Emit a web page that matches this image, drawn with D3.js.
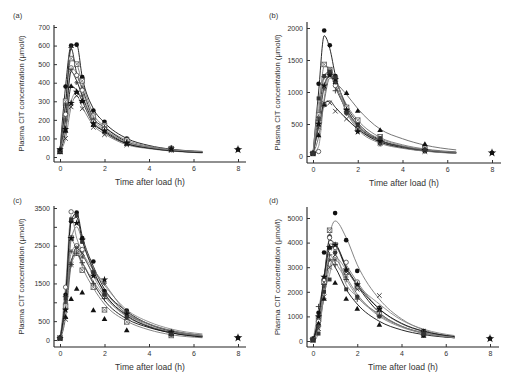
<!DOCTYPE html>
<html><head><meta charset="utf-8">
<script src="https://cdn.jsdelivr.net/npm/d3@7"></script>
<style>body{margin:0;background:#fff}svg{display:block}text{font-family:"Liberation Sans",Arial,sans-serif;fill:#333}</style>
</head><body><svg id="c" width="512" height="375"></svg>
<script>
// ---------- data ----------
const sampleTimes = [0, 0.25, 0.5, 0.75, 1, 1.5, 2, 3, 5];
const fitTimes = [0, 0.25, 0.5, 0.75, 1, 1.5, 2, 3, 4, 5, 6.4];
const markers = ["filledCircle","boxCross","plus","openCircle","filledTriangle","cross","asterisk","filledDiamond","filledSquare"];

const aPoints = [
  [35, 380, 600, 605, 430, 250, 190, 100, 50],
  [30, 300, 530, 500, 410, 220, 170, 90, 45],
  [30, 280, 590, 440, 370, 200, 160, 80, 40],
  [30, 230, 480, 440, 360, 190, 150, 75, 40],
  [25, 140, 380, 350, 300, 170, 140, 70, 38],
  [30, 100, 270, 330, 260, 160, 120, 65, 35],
  [30, 200, 470, 400, 330, 180, 130, 70, 40],
  [40, 150, 290, 350, 300, 180, 140, 75, 45]
];
const aFits = [
  [35, 380, 600, 605, 430, 260, 185, 100, 62, 42, 30],
  [30, 300, 530, 500, 400, 230, 165, 90, 58, 40, 28],
  [30, 280, 585, 450, 370, 210, 160, 82, 52, 36, 25],
  [30, 230, 480, 450, 360, 200, 150, 78, 50, 36, 25],
  [25, 140, 380, 360, 300, 180, 140, 72, 48, 34, 24],
  [30, 100, 270, 330, 270, 170, 125, 66, 45, 32, 22],
  [30, 200, 460, 410, 330, 190, 135, 72, 48, 34, 24],
  [40, 150, 300, 350, 305, 185, 145, 78, 52, 38, 28]
];
const bPoints = [
  [40, 1130, 1960, 1730, 1250, 750, 520, 260, 80],
  [40, 640, 1430, 1350, 1200, 760, 560, 300, 120],
  [40, 560, 1240, 1300, 1020, 700, 450, 230, 90],
  [40, 70, 800, 1330, 1100, 680, 420, 200, 80],
  [40, 320, 800, 1300, 1150, 980, 700, 400, 180],
  [40, 450, 820, 830, 700, 580, 420, 200, 70],
  [40, 600, 1050, 1300, 1150, 660, 400, 180, 80],
  [40, 500, 1100, 1260, 1200, 720, 380, 230, 90],
  [40, 900, 1250, 1320, 1230, 680, 480, 280, 100]
];
const bFits = [
  [40, 1000, 1880, 1680, 1260, 780, 520, 250, 150, 90, 55],
  [40, 700, 1400, 1380, 1180, 800, 560, 290, 175, 110, 65],
  [40, 560, 1250, 1320, 1080, 720, 480, 240, 145, 95, 55],
  [40, 150, 900, 1300, 1120, 700, 450, 215, 130, 80, 45],
  [40, 300, 850, 1220, 1150, 960, 740, 420, 270, 170, 95],
  [40, 450, 820, 860, 760, 580, 420, 220, 130, 80, 45],
  [40, 600, 1100, 1280, 1120, 680, 420, 200, 120, 75, 40],
  [40, 480, 1080, 1260, 1180, 740, 470, 240, 150, 95, 55],
  [40, 850, 1250, 1330, 1220, 700, 480, 270, 160, 100, 60]
];
const cPoints = [
  [50, 1200, 3150, 3380, 2700, 2080, 1300, 780, 220],
  [50, 900, 2700, 2300, 1850, 1400, 800, 480, 120],
  [50, 1150, 2000, 2300, 2050, 1500, 1100, 600, 150],
  [50, 1400, 3400, 2500, 2400, 1800, 1200, 700, 200],
  [50, 600, 1080, 1350, 1250, 780, 550, 250, 150],
  [50, 550, 2000, 2450, 2300, 1750, 1250, 650, 180],
  [50, 1000, 2350, 2450, 2200, 1780, 1500, 750, 200],
  [50, 800, 2700, 3100, 2650, 1700, 1600, 700, 200],
  [50, 1100, 3200, 3300, 2600, 1800, 1200, 600, 150]
];
const cFits = [
  [0, 1200, 3150, 3370, 2750, 1950, 1350, 760, 420, 230, 100],
  [0, 900, 2650, 2400, 1950, 1380, 950, 500, 270, 140, 60],
  [0, 900, 2100, 2300, 2050, 1500, 1050, 560, 330, 190, 90],
  [0, 1400, 3300, 2700, 2350, 1700, 1200, 680, 380, 210, 90],
  [0, 1000, 2000, 2250, 2050, 1550, 1150, 620, 360, 210, 100],
  [0, 600, 2000, 2450, 2250, 1750, 1300, 700, 420, 250, 130],
  [0, 1000, 2300, 2500, 2300, 1850, 1450, 800, 480, 290, 160],
  [0, 850, 2650, 3000, 2650, 1900, 1500, 740, 430, 250, 120],
  [0, 1100, 3150, 3250, 2650, 1850, 1250, 650, 350, 190, 80]
];
const dPoints = [
  [100, 1150, 3600, 4250, 5200, 4100, 2850, 1350, 400],
  [50, 900, 2400, 4500, 3900, 2800, 2200, 1100, 300],
  [50, 1400, 2300, 3500, 3100, 2500, 1700, 1200, 250],
  [50, 800, 2500, 4200, 3800, 3200, 2400, 1300, 350],
  [50, 700, 1700, 3800, 2350, 1700, 1300, 650, 200],
  [50, 500, 1800, 3000, 3500, 2800, 2100, 1850, 400],
  [50, 600, 2200, 3300, 3300, 2600, 1800, 1000, 300],
  [50, 1000, 2600, 3800, 3900, 2900, 2300, 1300, 350],
  [50, 300, 2000, 2500, 3600, 2100, 1800, 1000, 300]
];
const dFits = [
  [0, 700, 2600, 4300, 4880, 4200, 3100, 1700, 900, 450, 180],
  [0, 900, 2500, 4100, 3950, 2950, 2250, 1150, 600, 320, 130],
  [0, 1300, 2400, 3500, 3200, 2500, 1800, 1100, 600, 320, 140],
  [0, 800, 2500, 3950, 3850, 3100, 2400, 1300, 700, 380, 160],
  [0, 700, 1800, 3300, 3000, 2100, 1500, 800, 450, 260, 130],
  [0, 500, 1800, 3000, 3400, 2900, 2300, 1500, 850, 480, 220],
  [0, 600, 2200, 3300, 3300, 2600, 1900, 1050, 600, 330, 150],
  [0, 1000, 2600, 3750, 3900, 3000, 2300, 1300, 720, 400, 180],
  [0, 300, 1900, 2700, 3500, 2300, 1800, 1000, 560, 310, 140]
];
const lateTime = 8;
const lateValues = [40, 50, 60, 100];
const aTicks = [0,100,200,300,400,500,600,700];
const bTicks = [0,500,1000,1500,2000];
const cTicks = [0,500,1000,1500,2000,2500,3000,3500];
const cTickLabels = ["0","500","","1500","","2500","","3500"];
const dTicks = [0,1000,2000,3000,4000,5000];
const xTicks = [0,2,4,6,8];
const panelLabels = ["(a)","(b)","(c)","(d)"];
const xTitle = "Time after load (h)";
const yTitle = "Plasma CIT concentration (\u03bcmol/l)";

// ---------- layout (not data) ----------
const layout = [
  {ox:0,   x0:60,  x8:238, y0:157, yTop:27,  ymax:700,  axX:54,  axY:162, top:25,  right:246, tick:aTicks, lab:aTicks.map(String), pts:aPoints, fits:aFits},
  {ox:256, x0:313, x8:492, y0:156, yTop:28,  ymax:2000, axX:307, axY:163, top:22,  right:501, tick:bTicks, lab:bTicks.map(String), pts:bPoints, fits:bFits},
  {ox:0,   x0:60,  x8:238, y0:340, yTop:208, ymax:3500, axX:54,  axY:347, top:206, right:246, tick:cTicks, lab:cTickLabels, pts:cPoints, fits:cFits},
  {ox:256, x0:313, x8:490, y0:341, yTop:218, ymax:5000, axX:307, axY:347, top:207, right:499, tick:dTicks, lab:dTicks.map(String), pts:dPoints, fits:dFits}
];
const lineColors = [["#111","#777","#111","#888","#111","#777","#111","#888"],
                    ["#111","#777","#333","#888","#666","#111","#777","#444","#888"],
                    ["#111","#777","#111","#888","#777","#555","#888","#777","#111"],
                    ["#777","#111","#888","#777","#111","#888","#777","#111","#888"]];

const svg = d3.select("#c");

function drawMarker(g, type, cx, cy, r) {
  const s = g.append("g").attr("transform", `translate(${cx},${cy})`);
  const dk = "#111";
  switch (type) {
    case "filledCircle": s.append("circle").attr("r", r).attr("fill", dk); break;
    case "openCircle": s.append("circle").attr("r", r*0.95).attr("fill", "#fff").attr("stroke", "#444").attr("stroke-width", 0.8); break;
    case "filledTriangle": s.append("path").attr("d", d3.symbol(d3.symbolTriangle, r*r*2.6)()).attr("fill", dk); break;
    case "filledSquare": s.append("rect").attr("x",-r*0.85).attr("y",-r*0.85).attr("width",r*1.7).attr("height",r*1.7).attr("fill", "#333"); break;
    case "filledDiamond": s.append("path").attr("d", d3.symbol(d3.symbolStar, r*r*3.2)()).attr("fill", dk); break;
    case "lateBlob": s.append("circle").attr("r", r*0.8).attr("fill", dk); s.append("path").attr("d", d3.symbol(d3.symbolStar, r*r*3)()).attr("fill", dk); break;
    case "cross": s.append("path").attr("d", `M${-r},${-r}L${r},${r}M${-r},${r}L${r},${-r}`).attr("stroke", "#333").attr("stroke-width", 0.9); break;
    case "plus": s.append("path").attr("d", `M${-r*1.2},0L${r*1.2},0M0,${-r*1.2}L0,${r*1.2}`).attr("stroke", "#333").attr("stroke-width", 0.9); break;
    case "asterisk": s.append("path").attr("d", `M${-r},0L${r},0M0,${-r}L0,${r}M${-r*.7},${-r*.7}L${r*.7},${r*.7}M${-r*.7},${r*.7}L${r*.7},${-r*.7}`).attr("stroke", "#444").attr("stroke-width", 0.8); break;
    case "boxCross": s.append("rect").attr("x",-r).attr("y",-r).attr("width",2*r).attr("height",2*r).attr("fill","#fff").attr("stroke","#555").attr("stroke-width",0.8);
      s.append("path").attr("d", `M${-r},${-r}L${r},${r}M${-r},${r}L${r},${-r}`).attr("stroke", "#555").attr("stroke-width", 0.7); break;
  }
}

layout.forEach((p, i) => {
  const x = d3.scaleLinear().domain([0, 8]).range([p.x0, p.x8]);
  const y = d3.scaleLinear().domain([0, p.ymax]).range([p.y0, p.yTop]);
  const g = svg.append("g");

  g.append("line").attr("x1", p.axX).attr("x2", p.axX).attr("y1", p.top).attr("y2", p.axY).attr("stroke", "#222").attr("stroke-width", 1.1);
  g.append("line").attr("x1", p.axX).attr("x2", p.right).attr("y1", p.axY).attr("y2", p.axY).attr("stroke", "#222").attr("stroke-width", 1.1);

  const ya = d3.axisLeft(y).tickValues(p.tick).tickFormat((d, k) => p.lab[k]).tickSizeInner(-3).tickSizeOuter(0).tickPadding(4);
  const yg = g.append("g").attr("transform", `translate(${p.axX},0)`).call(ya);
  const xa = d3.axisBottom(x).tickValues(xTicks).tickFormat(d3.format("d")).tickSizeInner(-3).tickSizeOuter(0).tickPadding(4);
  const xg = g.append("g").attr("transform", `translate(0,${p.axY})`).call(xa);
  [yg, xg].forEach(a => {
    a.select(".domain").remove();
    a.selectAll("line").attr("stroke", "#333");
    a.selectAll("text").attr("font-size", 7).attr("fill", "#333").style("font-family", "Liberation Sans, Arial, sans-serif");
  });

  const line = d3.line().x((d, k) => x(fitTimes[k])).y(d => y(d)).curve(d3.curveMonotoneX);
  const lg = g.append("g").attr("fill", "none");
  p.fits.forEach((f, k) => {
    lg.append("path").attr("d", line(f)).attr("stroke", lineColors[i][k % lineColors[i].length]).attr("stroke-width", 0.9);
  });

  const mg = g.append("g");
  p.pts.forEach((s, k) => {
    s.forEach((v, j) => drawMarker(mg, markers[k % markers.length], x(sampleTimes[j]), y(v), 2.3));
  });
  drawMarker(mg, "lateBlob", x(lateTime), y(lateValues[i]), 2.8);

  g.append("text").attr("x", p.ox + 13).attr("y", (i < 2 ? 18 : 203)).attr("font-size", 7.5).text(panelLabels[i]);
  g.append("text").attr("x", (p.axX + p.right) / 2).attr("y", p.axY + 23).attr("text-anchor", "middle").attr("font-size", 8.6).attr("fill", "#333").text(xTitle);
  const ty = (p.top + p.axY) / 2;
  g.append("text").attr("transform", `translate(${p.ox + 24},${ty}) rotate(-90)`).attr("text-anchor", "middle").attr("font-size", 7.7).attr("fill", "#333").text(yTitle);
});
</script></body></html>
